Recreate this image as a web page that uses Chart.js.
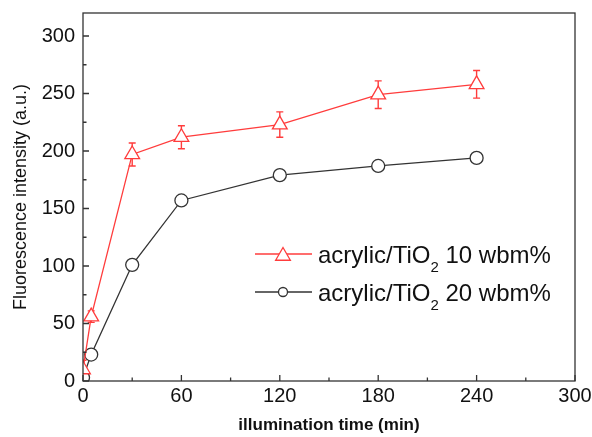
<!DOCTYPE html>
<html>
<head>
<meta charset="utf-8">
<script src="https://cdn.jsdelivr.net/npm/chart.js@4.4.1/dist/chart.umd.min.js"></script>
<style>
  html, body { margin: 0; padding: 0; background: #fff; }
  #wrap { width: 592px; height: 437px; }
</style>
</head>
<body>
<div id="wrap"><canvas id="chart" width="592" height="437"></canvas></div>
<script>
// illumination time (min)
const times = [0, 5, 30, 60, 120, 180, 240];
// acrylic/TiO2 10 wbm%
const red_vals = [10, 56, 197, 212, 223, 249, 258];
const red_err = [8, 5, 10, 10, 11, 12, 12];
// acrylic/TiO2 20 wbm%
const black_vals = [3, 23, 101, 157, 179, 187, 194];

const x_ticks = [0, 60, 120, 180, 240, 300];
const y_ticks = [0, 50, 100, 150, 200, 250, 300];

const legend_labels = [
  ['acrylic/TiO', '2', ' 10 wbm%'],
  ['acrylic/TiO', '2', ' 20 wbm%']
];

const RED = '#ff3c3c';
const DARK = '#333333';

function pts(vals) {
  return vals.map((v, i) => ({ x: times[i], y: v }));
}

// error bars under the markers
const errorBars = {
  id: 'errorBars',
  beforeDatasetsDraw(chart) {
    const ctx = chart.ctx;
    const xs = chart.scales.x, ys = chart.scales.y;
    const a = chart.chartArea;
    ctx.save();
    ctx.beginPath();
    ctx.rect(a.left, a.top, a.right - a.left, a.bottom - a.top);
    ctx.clip();
    ctx.strokeStyle = RED;
    ctx.lineWidth = 1.4;
    for (let i = 0; i < times.length; i++) {
      const px = xs.getPixelForValue(times[i]);
      const top = ys.getPixelForValue(red_vals[i] + red_err[i]);
      const bot = ys.getPixelForValue(red_vals[i] - red_err[i]);
      ctx.beginPath();
      ctx.moveTo(px, top); ctx.lineTo(px, bot);
      ctx.moveTo(px - 3.5, top); ctx.lineTo(px + 3.5, top);
      ctx.moveTo(px - 3.5, bot); ctx.lineTo(px + 3.5, bot);
      ctx.stroke();
    }
    ctx.restore();
  }
};

// frame and inward ticks
const frame = {
  id: 'frame',
  afterDraw(chart) {
    const ctx = chart.ctx;
    const a = chart.chartArea;
    const xs = chart.scales.x, ys = chart.scales.y;
    ctx.save();
    ctx.strokeStyle = DARK;
    ctx.lineWidth = 1.3;
    ctx.strokeRect(a.left, a.top, a.right - a.left, a.bottom - a.top);
    ctx.beginPath();
    for (let v = 0; v <= 300; v += 30) {
      const px = xs.getPixelForValue(v);
      const len = v % 60 === 0 ? 6 : 3.5;
      ctx.moveTo(px, a.bottom); ctx.lineTo(px, a.bottom - len);
    }
    for (let v = 0; v <= 300; v += 25) {
      const py = ys.getPixelForValue(v);
      const len = v % 50 === 0 ? 6 : 3.5;
      ctx.moveTo(a.left, py); ctx.lineTo(a.left + len, py);
    }
    ctx.stroke();
    ctx.restore();
  }
};

// legend with subscript
const subLegend = {
  id: 'subLegend',
  afterDraw(chart) {
    const ctx = chart.ctx;
    const rows = [
      { color: RED, style: 'triangle', r: 8.5, y: 254 },
      { color: DARK, style: 'circle', r: 4.5, y: 292 }
    ];
    ctx.save();
    rows.forEach((row, i) => {
      ctx.strokeStyle = row.color;
      ctx.lineWidth = 1.3;
      ctx.beginPath();
      ctx.moveTo(255, row.y); ctx.lineTo(312, row.y);
      ctx.stroke();
      ctx.fillStyle = '#fff';
      Chart.helpers.drawPoint(ctx, { pointStyle: row.style, radius: row.r, borderWidth: 1.3, rotation: 0 }, 283, row.y + (row.style === 'triangle' ? 2 : 0));
      ctx.fillStyle = '#111';
      ctx.textBaseline = 'alphabetic';
      let x = 318;
      const base = row.y + 8.5;
      ctx.font = '24px "Liberation Sans", Arial, sans-serif';
      ctx.fillText(legend_labels[i][0], x, base);
      x += ctx.measureText(legend_labels[i][0]).width;
      ctx.font = '15px "Liberation Sans", Arial, sans-serif';
      ctx.fillText(legend_labels[i][1], x, base + 9);
      x += ctx.measureText(legend_labels[i][1]).width;
      ctx.font = '24px "Liberation Sans", Arial, sans-serif';
      ctx.fillText(legend_labels[i][2], x, base);
    });
    ctx.restore();
  }
};

new Chart(document.getElementById('chart'), {
  type: 'line',
  data: {
    datasets: [
      {
        label: 'acrylic/TiO2 10 wbm%',
        data: pts(red_vals),
        borderColor: RED,
        backgroundColor: '#fff',
        borderWidth: 1.3,
        pointStyle: 'triangle',
        pointRadius: 8.5,
        pointBorderWidth: 1.3,
        pointBorderColor: RED,
        pointBackgroundColor: '#fff',
        tension: 0,
        clip: 0
      },
      {
        label: 'acrylic/TiO2 20 wbm%',
        data: pts(black_vals),
        borderColor: DARK,
        backgroundColor: '#fff',
        borderWidth: 1.3,
        pointStyle: 'circle',
        pointRadius: 6.5,
        pointBorderWidth: 1.3,
        pointBorderColor: DARK,
        pointBackgroundColor: '#fff',
        tension: 0,
        clip: 0
      }
    ]
  },
  options: {
    responsive: false,
    animation: false,
    layout: { padding: { left: 0, top: 13, right: 17, bottom: 0 } },
    plugins: { legend: { display: false }, tooltip: { enabled: false } },
    scales: {
      x: {
        type: 'linear',
        min: 0, max: 300,
        afterBuildTicks(s) { s.ticks = x_ticks.map(v => ({ value: v })); },
        afterFit(s) { s.height = 56; s.paddingLeft = 0; s.paddingRight = 0; },
        grid: { display: false, drawTicks: false },
        border: { display: false },
        ticks: { color: '#111', padding: 3, maxRotation: 0, font: { family: '"Liberation Sans", Arial, sans-serif', size: 20 } },
        title: { display: true, text: 'illumination time (min)', color: '#111', padding: { top: 0, bottom: 1 },
          font: { family: '"Liberation Sans", Arial, sans-serif', size: 17, weight: 'bold' } }
      },
      y: {
        min: 0, max: 320,
        afterBuildTicks(s) { s.ticks = y_ticks.map(v => ({ value: v })); },
        afterFit(s) { s.width = 83; s.paddingTop = 0; s.paddingBottom = 0; },
        grid: { display: false, drawTicks: false },
        border: { display: false },
        ticks: { color: '#111', padding: 8, font: { family: '"Liberation Sans", Arial, sans-serif', size: 20 } },
        title: { display: true, text: 'Fluorescence intensity (a.u.)', color: '#111', padding: { top: 10, bottom: 0 },
          font: { family: '"Liberation Sans", Arial, sans-serif', size: 18 } }
      }
    }
  },
  plugins: [errorBars, frame, subLegend]
});
</script>
</body>
</html>
